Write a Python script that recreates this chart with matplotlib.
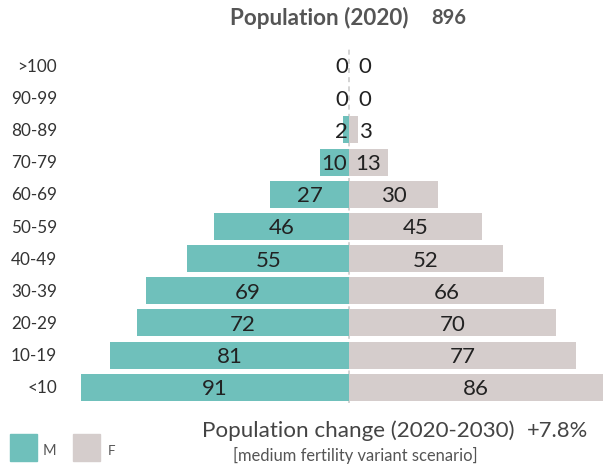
import matplotlib
matplotlib.use("Agg")
import matplotlib.pyplot as plt
from matplotlib.patches import Rectangle
from matplotlib.transforms import ScaledTranslation

plt.rcParams['font.family'] = ['Lato', 'DejaVu Sans']

# data
ages = ["<10", "10-19", "20-29", "30-39", "40-49", "50-59", "60-69", "70-79", "80-89", "90-99", ">100"]
male = [91, 81, 72, 69, 55, 46, 27, 10, 2, 0, 0]
female = [86, 77, 70, 66, 52, 45, 30, 13, 3, 0, 0]
total_pop = "896"
pop_change = "+7.8%"

teal = "#6fc0bb"
grey = "#d5cdcc"
txt = "#555555"

W, H = 608, 469
fig = plt.figure(figsize=(W / 100, H / 100), dpi=100)
renderer = fig.canvas.get_renderer()


def fit_text(x0, x1, ybase, s, **kw):
    # put text at pixel coords (top-left origin) and scale the font to the wanted width
    t = fig.text(x0 / W, 1 - ybase / H, s, ha='left', va='baseline', fontsize=12, **kw)
    w = t.get_window_extent(renderer).width
    t.set_fontsize(12 * (x1 - x0) / w)
    return t


# axes placed in pixel coords
ax_left, ax_right = 60, 608
ax_top, ax_bot = 49.4, 403.4
ax = fig.add_axes([ax_left / W, 1 - ax_bot / H, (ax_right - ax_left) / W, (ax_bot - ax_top) / H])
pxu = 2.95  # pixels per unit
center = 349.3
ax.set_xlim(-(center - ax_left) / pxu, (ax_right - center) / pxu)
ax.set_ylim(-0.5, len(ages) - 0.5)
ax.axis('off')

y = list(range(len(ages)))
ax.barh(y, [-m for m in male], height=0.84, color=teal, linewidth=0)
ax.barh(y, female, height=0.84, color=grey, linewidth=0)
ax.axvline(0, color="#cccccc", lw=1.2, ls=(0, (3, 2.5)), zorder=0)

# value labels, digits vertically centred on bars
val_fs = 16
shift = ax.transData + ScaledTranslation(0, -0.08, fig.dpi_scale_trans)
for i, (m, f) in enumerate(zip(male, female)):
    half_m = len(str(m)) * 12.5 / 2 / pxu
    if m / 2 >= half_m:
        ax.text(-m / 2, i, str(m), ha='center', va='baseline', fontsize=val_fs,
                color="#222222", transform=shift)
    else:
        ax.text(-0.4, i, str(m), ha='right', va='baseline', fontsize=val_fs,
                color="#222222", transform=shift)
    half_f = len(str(f)) * 12.5 / 2 / pxu
    if f / 2 >= half_f:
        ax.text(f / 2, i, str(f), ha='center', va='baseline', fontsize=val_fs,
                color="#222222", transform=shift)
    else:
        ax.text(3.2, i, str(f), ha='left', va='baseline', fontsize=val_fs,
                color="#222222", transform=shift)

# age labels, size taken from the width of "90-99"
probe = fit_text(11, 57, 100, "90-99")
age_fs = probe.get_fontsize()
probe.remove()
cap = age_fs / 72 * 0.72
for i, a in enumerate(ages):
    ax.text(57 / W, i, a, ha='right', va='baseline', fontsize=age_fs, color="#333333",
            transform=ax.get_yaxis_transform().__class__(fig.transFigure, ax.transData)
            + ScaledTranslation(0, -cap / 2, fig.dpi_scale_trans))

# title
fit_text(230, 408, 25, "Population (2020)", fontweight='bold', color=txt)
fit_text(431, 466, 23.5, total_pop, fontweight='bold', color=txt)

# bottom notes
fit_text(202, 512.5, 437, "Population change (2020-2030)", color="#444444")
fit_text(527, 588, 437, pop_change, color="#444444")
fit_text(233, 477, 460.5, "[medium fertility variant scenario]", color=txt)

# legend
fig.patches.append(Rectangle((10 / W, 1 - 461 / H), 27 / W, 27 / H, transform=fig.transFigure,
                             color=teal))
fit_text(43, 56.5, 455, "M", color=txt)
fig.patches.append(Rectangle((73.3 / W, 1 - 461 / H), 27 / W, 27 / H, transform=fig.transFigure,
                             color=grey))
fit_text(108, 115.5, 455, "F", color=txt)

fig.savefig("out.png", dpi=100)
